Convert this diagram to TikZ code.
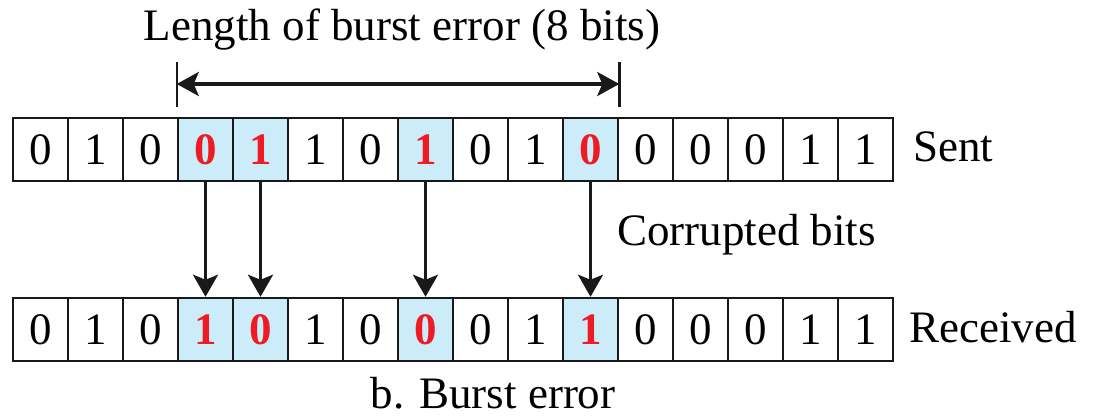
\documentclass[tikz,border=0pt]{standalone}
\usepackage{fontspec}
\setmainfont{Liberation Serif}
\usetikzlibrary{arrows.meta}
\definecolor{flipblue}{RGB}{204,236,250}
\definecolor{flipred}{RGB}{237,28,36}
\tikzset{
  bit/.style={rectangle, draw=black!90, line width=2.5pt, minimum width=55pt,
    minimum height=63pt, inner sep=0pt, font=\fontsize{45}{50}\selectfont},
  plain/.style={},
  flip/.style={fill=flipblue, text=flipred, font=\fontsize{45}{50}\selectfont\bfseries},
  txt/.style={inner sep=0pt, font=\fontsize{45}{50}\selectfont},
  down/.style={-{Stealth[length=22pt,width=25pt,inset=5pt]}, line width=3.2pt, draw=black!90},
  span/.style={{Stealth[length=22pt,width=24pt,inset=5pt]}-{Stealth[length=22pt,width=24pt,inset=5pt]},
    line width=3.2pt, draw=black!90}
}

\begin{document}
\begin{tikzpicture}[x=1pt, y=-1pt]
  \useasboundingbox (0,0) rectangle (1099,416);

  % sent frame
  \foreach \b/\st [count=\i] in {0/plain,1/plain,0/plain,0/flip,1/flip,1/plain,0/plain,1/flip,
                                 0/plain,1/plain,0/flip,0/plain,0/plain,0/plain,1/plain,1/plain}
    \node[bit, \st] (s\i) at (55*\i-14.5, 149.5) {\b};

  % received frame
  \foreach \b/\st [count=\i] in {0/plain,1/plain,0/plain,1/flip,0/flip,1/plain,0/plain,0/flip,
                                 0/plain,1/plain,1/flip,0/plain,0/plain,0/plain,1/plain,1/plain}
    \node[bit, \st] (r\i) at (55*\i-14.5, 329.5) {\b};

  % corrupted bits
  \foreach \i in {4,5,8,11}
    \draw[down] (s\i.south) -- (r\i.north);

  % burst length
  \coordinate (top) at (0,62);
  \coordinate (bot) at (0,107);
  \coordinate (mid) at (0,84);
  \draw[line width=2.5pt, black!90] (s4.west |- top) -- (s4.west |- bot);
  \draw[line width=2.5pt, black!90] (s11.east |- top) -- (s11.east |- bot);
  \draw[span] (s4.west |- mid) -- (s11.east |- mid);

  \node[txt, anchor=base] (title) at (402,40) {Length of burst error (8 bits)};
  \node[txt, anchor=base west] (sent) at (913,161) {Sent};
  \node[txt, anchor=base west] (corrupt) at (617,245) {Corrupted bits};
  \node[txt, anchor=base west] (recv) at (909,342) {Received};
  \node[txt, anchor=base] (caption) at (493,408) {b. Burst error};
\end{tikzpicture}
\end{document}
